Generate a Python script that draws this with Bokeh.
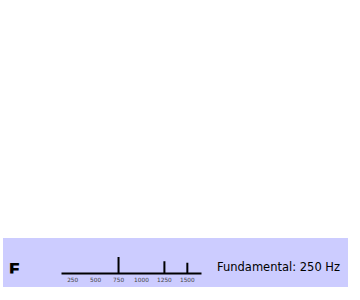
from bokeh.plotting import figure
from bokeh.models import Label, FixedTicker, Range1d, Spacer
from bokeh.layouts import column
from bokeh.embed import file_html
from bokeh.resources import INLINE

# data
harmonic_freqs = [750, 1250, 1500]
harmonic_amps = [1.0, 0.75, 0.65]
tick_values = [250, 500, 750, 1000, 1250, 1500]
axis_start, axis_end = 125, 1650
letter = "F"
fundamental_text = "Fundamental: 250 Hz"

BG = "#ccccff"

# page content 352x292; the panel sits near the bottom
PAGE_W, PAGE_H = 352, 292
PANEL_X, PANEL_Y = 3, 238
W, H = 345, 49
ax_left_px, ax_right_px = 57.7, 197.6
base_px = 35
unit_px = 16.5
k = (ax_right_px - ax_left_px) / (axis_end - axis_start)
x0 = axis_start - ax_left_px / k
x1 = axis_end + (W - ax_right_px) / k

p = figure(width=W, height=H, output_backend="svg", toolbar_location=None,
           x_range=Range1d(x0, x1), y_range=Range1d(0, base_px / unit_px),
           min_border_left=0, min_border_right=0,
           min_border_top=0, min_border_bottom=H - base_px,
           background_fill_color=None, border_fill_color=None,
           outline_line_color=None,
           margin=(0, PAGE_W - PANEL_X - W, PAGE_H - PANEL_Y - H, PANEL_X),
           styles={"background-color": BG})
p.grid.visible = False
p.yaxis.visible = False

ax = p.xaxis[0]
ax.ticker = FixedTicker(ticks=tick_values)
ax.bounds = (axis_start, axis_end)
ax.axis_line_width = 2
ax.axis_line_color = "black"
ax.major_tick_line_color = None
ax.minor_tick_line_color = None
ax.major_tick_out = 0
ax.major_tick_in = 0
ax.major_label_standoff = 3
ax.major_label_text_font = "DejaVu Sans"
ax.major_label_text_font_size = "5.8px"
ax.major_label_text_color = "#444444"

p.segment(x0=harmonic_freqs, y0=[0] * len(harmonic_freqs),
          x1=harmonic_freqs, y1=harmonic_amps,
          line_color="black", line_width=2)

p.add_layout(Label(x=x0 + 4.9 / k, y=(base_px - 31.1) / unit_px,
                   text=letter, text_font="DejaVu Sans",
                   text_font_style="bold", text_font_size="17.5px",
                   text_color="black", text_align="left",
                   text_baseline="alphabetic"))
p.add_layout(Label(x=x0 + 213.5 / k, y=(base_px - 28.2) / unit_px,
                   text=fundamental_text, text_font="DejaVu Sans",
                   text_font_size="11.5px", text_color="black",
                   text_align="left", text_baseline="alphabetic"))

layout = column(Spacer(width=PAGE_W, height=PANEL_Y), p, spacing=0)

open("out.html", "w").write(file_html(layout, INLINE))
